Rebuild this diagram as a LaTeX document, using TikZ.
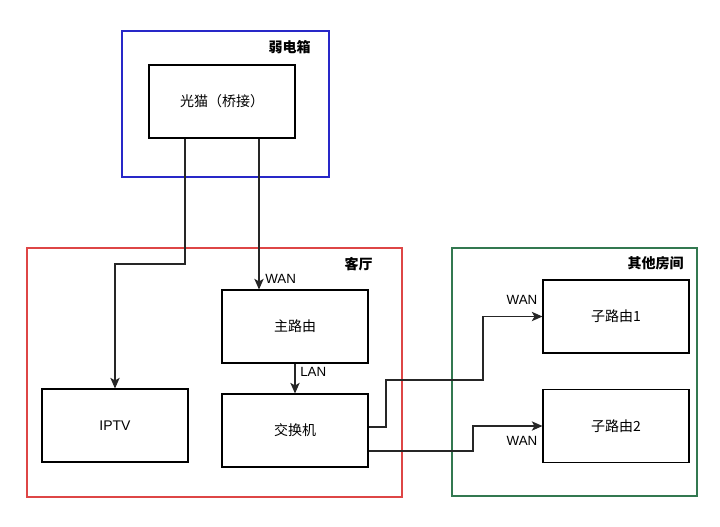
\documentclass[tikz,border=0pt]{standalone}
\usepackage{fontspec}
\setmainfont{Liberation Sans}
\newfontfamily\cjk{Noto Sans CJK SC}
\usetikzlibrary{arrows.meta,fit,calc}

\definecolor{boxblue}{RGB}{40,40,200}
\definecolor{boxred}{RGB}{222,70,70}
\definecolor{boxgreen}{RGB}{50,120,80}

\tikzset{
  device/.style={draw=black, line width=0.8pt, fill=white, inner sep=0pt,
    minimum width=109.5pt, minimum height=54.75pt, font=\cjk\fontsize{10.5}{12}\selectfont},
  room/.style={draw=#1, line width=0.8pt, inner sep=0pt},
  roomlabel/.style={anchor=east, inner sep=0pt, font=\cjk\bfseries\fontsize{10.5}{12}\selectfont},
  port/.style={inner sep=0pt, font=\fontsize{10}{12}\selectfont},
  link/.style={draw=black!85, line width=0.9pt},
  arr/.style={link, -{Stealth[length=8pt,width=7pt,inset=2pt]}},
}

\begin{document}
\begin{tikzpicture}[x=0.75pt, y=-0.75pt]
  \useasboundingbox (0,0) rectangle (720,526);

  % rooms
  \node[room=boxblue, fit={(122,31) (329,177)}] (box) {};
  \node[room=boxred, fit={(27,248) (402,497)}] (living) {};
  \node[room=boxgreen, fit={(452,248) (697,496)}] (others) {};
  \node[roomlabel] (boxlbl) at (311,47) {弱电箱};
  \node[roomlabel] (livinglbl) at (373,264) {客厅};
  \node[roomlabel] (otherslbl) at (684,263) {其他房间};

  % devices
  \node[device] (modem) at (222,101.5) {光猫（桥接）};
  \node[device] (router) at (295,326.5) {主路由};
  \node[device] (iptv) at (115,425.5) {\fontspec{Liberation Sans}IPTV};
  \node[device] (switch) at (295,430.5) {交换机};
  \node[device] (sub1) at (616,316.5) {子路由1};
  \node[device] (sub2) at (616,426) {子路由2};

  % turning points
  \coordinate (m1) at ($(modem.south)+(-37,0)$);
  \coordinate (m2) at ($(modem.south)+(37,0)$);
  \coordinate (b1) at (115,264);
  \coordinate (s1) at ($(switch.east)+(0,-3.5)$);
  \coordinate (s2) at ($(switch.east)+(0,20.5)$);
  \coordinate (c1) at (386,380);
  \coordinate (c2) at (483,380);
  \coordinate (c3) at (473,451);

  % connectors
  \draw[arr] (m1) |- (b1) -- (iptv.north);
  \draw[arr] (m2) -- (m2 |- router.north);
  \draw[arr] (router.south) -- (switch.north);
  \draw[arr] (s1) -| (c1) -- (c2) |- (sub1.west);
  \draw[arr] (s2) -- (c3) |- (sub2.west);

  % port labels
  \node[port, anchor=west] (wanmain) at (265,279) {WAN};
  \node[port, anchor=west] (lanmain) at (300,372) {LAN};
  \node[port] (wan1) at (522,300) {WAN};
  \node[port] (wan2) at (522,441) {WAN};
\end{tikzpicture}
\end{document}
